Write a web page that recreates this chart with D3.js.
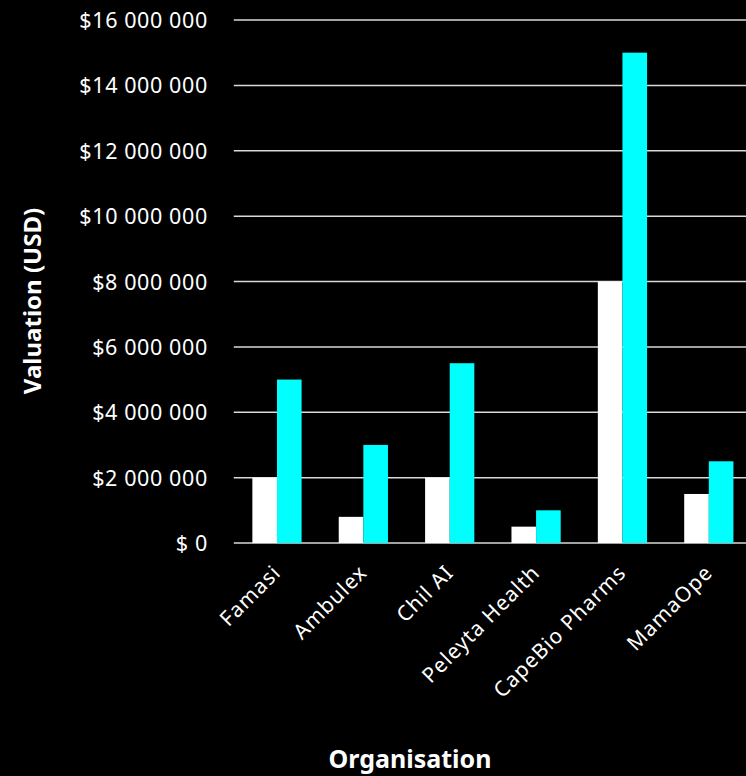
<!DOCTYPE html>
<html><head><meta charset="utf-8">
<script src="https://cdn.jsdelivr.net/npm/d3@7"></script>
<style>html,body{margin:0;padding:0;background:#000;overflow:hidden}</style>
</head><body>
<svg id="chart" width="746" height="776"></svg>
<script>
const categories = ["Famasi","Ambulex","Chil AI","Peleyta Health","CapeBio Pharms","MamaOpe"];
const seriesA = [2000000, 800000, 2000000, 500000, 8000000, 1500000];
const seriesB = [5000000, 3000000, 5500000, 1000000, 15000000, 2500000];
const tickValues = [0,2000000,4000000,6000000,8000000,10000000,12000000,14000000,16000000];
const tickLabels = ["$ 0","$2 000 000","$4 000 000","$6 000 000","$8 000 000","$10 000 000","$12 000 000","$14 000 000","$16 000 000"];

(function(){
const svg = d3.select("#chart");
svg.append("rect").attr("width",746).attr("height",776).attr("fill","#000");
const mLeft = 233.8, mRight = 752, mTop = 20, mBottom = 543;
const x = d3.scaleBand().domain(categories).range([mLeft,mRight]).paddingInner(0.43).paddingOuter(0.215);
const y = d3.scaleLinear().domain([0,16000000]).range([mBottom,mTop]);
const font = "'Noto Sans', 'Open Sans', sans-serif";

svg.append("g").selectAll("line").data(tickValues).join("line")
  .attr("x1",mLeft).attr("x2",mRight)
  .attr("y1",d=>y(d)).attr("y2",d=>y(d))
  .attr("stroke","#d9d9d9").attr("stroke-width",1.5);

const yAxis = d3.axisLeft(y).tickValues(tickValues).tickFormat((d,i)=>tickLabels[i]).tickSize(0).tickPadding(26);
const gy = svg.append("g").attr("transform",`translate(${mLeft},0)`).call(yAxis);
gy.select(".domain").remove();
gy.selectAll("text").attr("fill","#fff").style("font-family",font).style("font-size","21.5px")
  .style("letter-spacing","0.6px").attr("dy","0.35em");

const bw = x.bandwidth();
const g = svg.append("g");
g.selectAll("rect.a").data(categories).join("rect").attr("class","a")
  .attr("x",d=>x(d)).attr("width",bw/2)
  .attr("y",(d,i)=>y(seriesA[i])).attr("height",(d,i)=>mBottom-y(seriesA[i]))
  .attr("fill","#ffffff");
g.selectAll("rect.b").data(categories).join("rect").attr("class","b")
  .attr("x",d=>x(d)+bw/2).attr("width",bw/2)
  .attr("y",(d,i)=>y(seriesB[i])).attr("height",(d,i)=>mBottom-y(seriesB[i]))
  .attr("fill","#00ffff");

const xAxis = d3.axisBottom(x).tickSize(0).tickPadding(0);
const gx = svg.append("g").attr("transform",`translate(0,${mBottom})`).call(xAxis);
gx.select(".domain").remove();
gx.selectAll("text")
  .attr("fill","#fff").style("font-family",font).style("font-size","21px")
  .style("letter-spacing","1px")
  .attr("text-anchor","end")
  .attr("transform","translate(5,31) rotate(-45)")
  .attr("dy","0").attr("y",0).attr("x",0);

svg.append("text").attr("transform","translate(41,301) rotate(-90)")
  .attr("text-anchor","middle").attr("fill","#fff")
  .style("font-family",font).style("font-weight","bold").style("font-size","24px")
  .text("Valuation (USD)");
svg.append("text").attr("x",410).attr("y",768)
  .attr("text-anchor","middle").attr("fill","#fff")
  .style("font-family",font).style("font-weight","bold").style("font-size","25px")
  .text("Organisation");
})();
</script>
</body></html>
